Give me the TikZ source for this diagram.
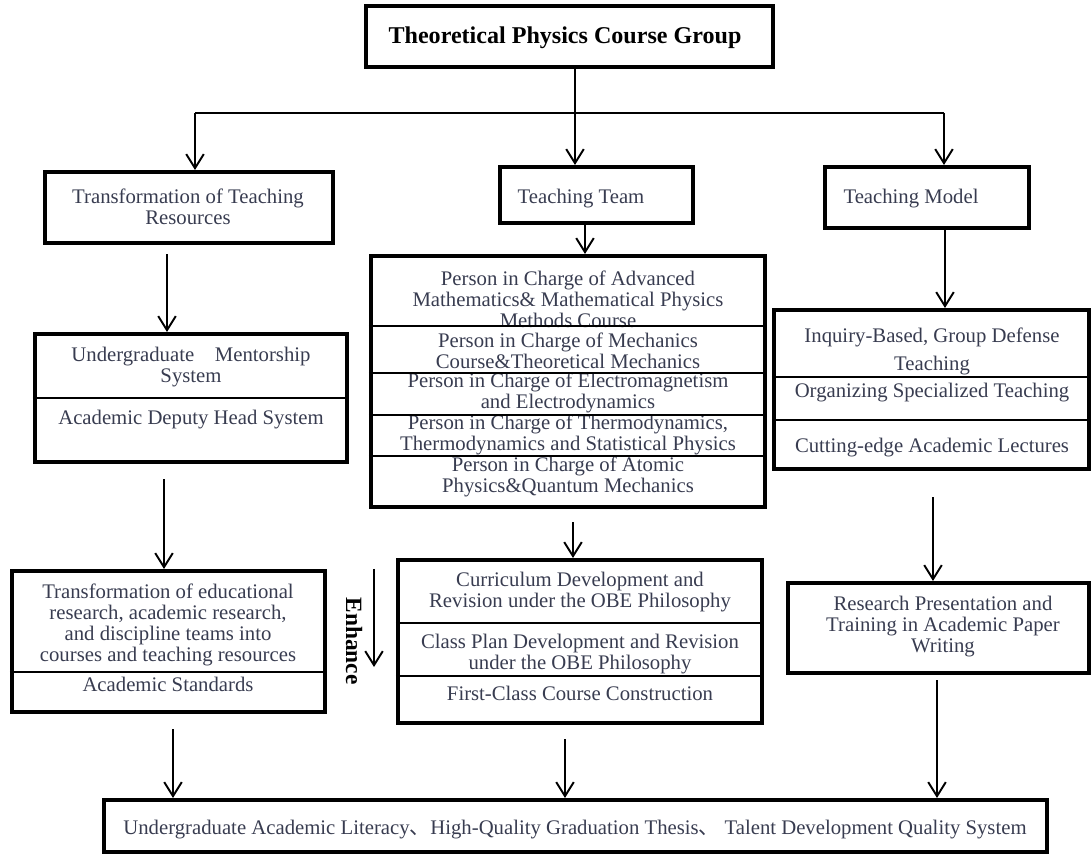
\documentclass[tikz,border=0pt]{standalone}
\usepackage{fontspec}
\setmainfont{Liberation Serif}
\newfontfamily\cjkfont{Noto Sans CJK SC}
\usetikzlibrary{arrows.meta,fit}
\definecolor{txtgray}{RGB}{56,60,80}

\tikzset{
  frame/.style={draw, line width=2.3pt, inner sep=0pt},
  sep/.style={line width=1.1pt},
  lbl/.style={align=center, text=txtgray, inner sep=0pt},
  arr/.style={line width=1.1pt, -{Straight Barb[length=8pt,width=10pt,line width=1.1pt]}},
}

\begin{document}
\begin{tikzpicture}[x=0.02cm, y=-0.02cm, font=\fontsize{11.8}{11.95}\selectfont]
\useasboundingbox (0,0) rectangle (1092,854);

% top of the tree
\node[frame, fit={(366,6) (773,67)}] (group) {};
\node[lbl, text=black, font=\fontsize{13.7}{16}\bfseries] (groupA) at (565,38) {Theoretical Physics Course Group};
\coordinate (jL) at (195,113);
\coordinate (jM) at (575,113);
\coordinate (jR) at (944,113);

\node[frame, fit={(45,172) (333,243)}] (res) {};
\node[lbl] (resA) at (188,207) {Transformation of Teaching\\Resources};
\node[frame, fit={(500,167) (693,223)}] (team) {};
\node[lbl] (teamA) at (581,199) {Teaching Team};
\node[frame, fit={(825,167) (1029,228)}] (model) {};
\node[lbl] (modelA) at (911,199) {Teaching Model};

\draw[sep] (575,0 |- group.south) -- (jM);
\draw[sep] (jL) -- (jR);
\draw[arr] (jL) -- (jL |- res.north);
\draw[arr] (jM) -- (jM |- team.north);
\draw[arr] (jR) -- (jR |- model.north);

% left column
\node[frame, fit={(35,334) (347,462)}] (men) {};
\node[lbl] (menA) at (191,367) {Undergraduate\quad Mentorship\\System};
\node[lbl] (menB) at (191,420) {Academic Deputy Head System};
\draw[sep] (men.west |- 0,398) -- (men.east |- 0,398);

\node[frame, fit={(12,571) (325,712)}] (edu) {};
\node[lbl] (eduA) at (168,625) {Transformation of educational\\research, academic research,\\and discipline teams into\\courses and teaching resources};
\node[lbl] (eduB) at (168,684) {Academic Standards};
\draw[sep] (edu.west |- 0,672) -- (edu.east |- 0,672);

\draw[arr, shorten <=0.18cm] (167,0 |- res.south) -- (167,0 |- men.north);
\draw[arr, shorten <=0.3cm] (164,0 |- men.south) -- (164,0 |- edu.north);

% middle column
\node[frame, fit={(371,256) (765,507)}] (staff) {};
\node[lbl] (stA) at (568,299) {Person in Charge of Advanced\\Mathematics\& Mathematical Physics\\Methods Course};
\node[lbl] (stB) at (568,351) {Person in Charge of Mechanics\\Course\&Theoretical Mechanics};
\node[lbl] (stC) at (568,392.5) {Person in Charge of Electromagnetism\\and Electrodynamics};
\node[lbl] (stD) at (568,434.5) {Person in Charge of Thermodynamics,\\Thermodynamics and Statistical Physics};
\node[lbl] (stE) at (568,476.5) {Person in Charge of Atomic\\Physics\&Quantum Mechanics};
\foreach \yy in {326,373,415,456}
  \draw[sep] (staff.west |- 0,\yy) -- (staff.east |- 0,\yy);

\node[frame, fit={(398,560) (762,723)}] (obe) {};
\node[lbl] (obeA) at (580,592) {Curriculum Development and\\Revision under the OBE Philosophy};
\node[lbl] (obeB) at (580,654) {Class Plan Development and Revision\\under the OBE Philosophy};
\node[lbl] (obeC) at (580,693) {First-Class Course Construction};
\draw[sep] (obe.west |- 0,623) -- (obe.east |- 0,623);
\draw[sep] (obe.west |- 0,676) -- (obe.east |- 0,676);

\draw[arr] (585,0 |- team.south) -- (585,0 |- staff.north);
\draw[arr, shorten <=0.26cm] (573,0 |- staff.south) -- (573,0 |- obe.north);

\coordinate (enhTop) at (374,569);
\coordinate (enhBot) at (374,667);
\draw[arr] (enhTop) -- (enhBot);
\node[rotate=-90, font=\fontsize{13.3}{14}\bfseries] (enh) at (354,641) {Enhance};

% right column
\node[frame, fit={(774,310) (1089,469)}] (ways) {};
\node[lbl] (waysA) at (932,351) {Inquiry-Based, Group Defense\\[0.14cm]Teaching};
\node[lbl] (waysB) at (932,393) {Organizing Specialized Teaching};
\node[lbl] (waysC) at (932,448) {Cutting-edge Academic Lectures};
\draw[sep] (ways.west |- 0,377) -- (ways.east |- 0,377);
\draw[sep] (ways.west |- 0,420) -- (ways.east |- 0,420);

\node[frame, fit={(788,583) (1089,673)}] (paper) {};
\node[lbl] (paperA) at (943,627) {Research Presentation and\\Training in Academic Paper\\Writing};

\draw[arr] (945,0 |- model.south) -- (945,0 |- ways.north);
\draw[arr, shorten <=0.52cm] (933,0 |- ways.south) -- (933,0 |- paper.north);

% outcome
\node[frame, fit={(104,800) (1047,852)}] (goal) {};
\node[lbl] (goalA) at (575,830) {Undergraduate Academic Literacy{\cjkfont 、}High-Quality Graduation Thesis{\cjkfont 、}\ Talent Development Quality System};

\draw[arr, shorten <=0.3cm] (173,0 |- edu.south) -- (173,0 |- goal.north);
\draw[arr, shorten <=0.28cm] (565,0 |- obe.south) -- (565,0 |- goal.north);
\draw[arr, shorten <=0.1cm] (937,0 |- paper.south) -- (937,0 |- goal.north);
\end{tikzpicture}
\end{document}
